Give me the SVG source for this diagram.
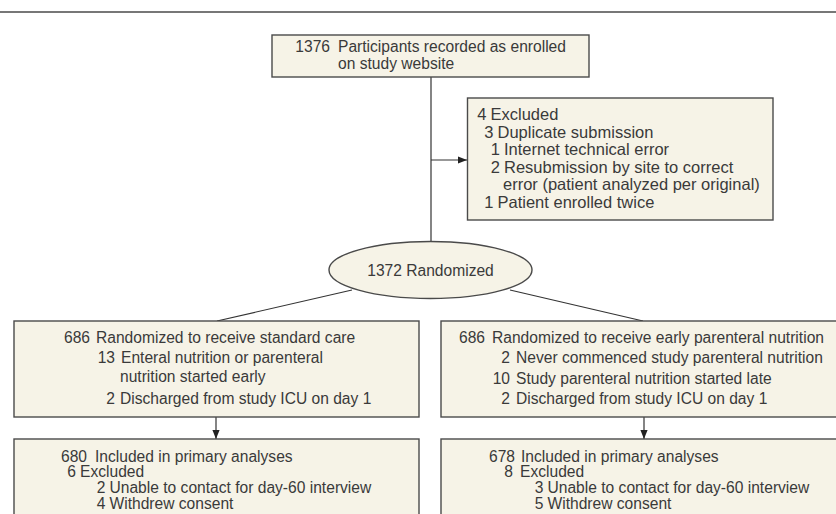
<svg xmlns="http://www.w3.org/2000/svg" width="836" height="514" viewBox="0 0 836 514">
<defs>
<style>
.box{fill:#f6f3e7;stroke:#4a4a4a;stroke-width:1.4}
.t{font-family:"Liberation Sans",Arial,sans-serif;font-size:15.6px;fill:#3a3a3a}
.x{font-size:16.5px}
.n{text-anchor:end}
.c{fill:none;stroke:#333;stroke-width:1.2}
</style>
<marker id="ah" viewBox="0 0 10 10" refX="10" refY="5" markerWidth="9" markerHeight="9" markerUnits="userSpaceOnUse" orient="auto">
<path d="M0,1 L10,5 L0,9 Z" fill="#222"/>
</marker>
</defs>
<rect width="836" height="514" fill="#fff"/>
<line x1="0" y1="12" x2="836" y2="12" stroke="#777" stroke-width="2"/>
<g id="connectors">
<line class="c" x1="431" y1="77" x2="431" y2="241.5"/>
<line class="c" x1="431" y1="160" x2="467" y2="160" marker-end="url(#ah)"/>
<line class="c" x1="352" y1="290" x2="217" y2="321"/>
<line class="c" x1="510" y1="290" x2="643" y2="321"/>
<line class="c" x1="216" y1="417" x2="216" y2="439" marker-end="url(#ah)"/>
<line class="c" x1="644" y1="417" x2="644" y2="439" marker-end="url(#ah)"/>
</g>
<g id="enrolled">
<rect class="box" x="272" y="35" width="317" height="42"/>
<text class="t n" x="330" y="52">1376</text>
<text class="t" x="338" y="52">Participants recorded as enrolled</text>
<text class="t" x="338" y="69">on study website</text>
</g>
<g id="excluded">
<rect class="box" x="467.5" y="98" width="305.5" height="122"/>
<text class="t x n" x="486.5" y="120">4</text><text class="t x" x="490.5" y="120">Excluded</text>
<text class="t x n" x="493.5" y="137.5">3</text><text class="t x" x="497.5" y="137.5">Duplicate submission</text>
<text class="t x n" x="500" y="155">1</text><text class="t x" x="504" y="155">Internet technical error</text>
<text class="t x n" x="500" y="172.5">2</text><text class="t x" x="504" y="172.5">Resubmission by site to correct</text>
<text class="t x" x="503" y="190">error (patient analyzed per original)</text>
<text class="t x n" x="493.5" y="207.5">1</text><text class="t x" x="497.5" y="207.5">Patient enrolled twice</text>
</g>
<g id="randomized">
<ellipse cx="430.5" cy="270" rx="101.5" ry="28.5" fill="#f6f3e7" stroke="#4a4a4a" stroke-width="1.4"/>
<text class="t" x="430.5" y="275.5" text-anchor="middle">1372 Randomized</text>
</g>
<g id="standard">
<rect class="box" x="14" y="321" width="405" height="96"/>
<text class="t n" x="90" y="343">686</text><text class="t" x="96" y="343">Randomized to receive standard care</text>
<text class="t n" x="115" y="363">13</text><text class="t" x="121" y="363">Enteral nutrition or parenteral</text>
<text class="t" x="120" y="382">nutrition started early</text>
<text class="t n" x="115" y="404">2</text><text class="t" x="120" y="404">Discharged from study ICU on day 1</text>
</g>
<g id="early">
<rect class="box" x="441" y="321" width="405" height="96"/>
<text class="t n" x="485" y="343">686</text><text class="t" x="492" y="343">Randomized to receive early parenteral nutrition</text>
<text class="t n" x="510" y="363">2</text><text class="t" x="516" y="363">Never commenced study parenteral nutrition</text>
<text class="t n" x="510" y="384">10</text><text class="t" x="516" y="384">Study parenteral nutrition started late</text>
<text class="t n" x="510" y="404">2</text><text class="t" x="516" y="404">Discharged from study ICU on day 1</text>
</g>
<g id="standard-analysed">
<rect class="box" x="14" y="439" width="405" height="90"/>
<text class="t n" x="87" y="461.5">680</text><text class="t" x="95" y="461.5">Included in primary analyses</text>
<text class="t n" x="76" y="477">6</text><text class="t" x="80" y="477">Excluded</text>
<text class="t n" x="105.5" y="493">2</text><text class="t" x="109.5" y="493">Unable to contact for day-60 interview</text>
<text class="t n" x="105.5" y="508.5">4</text><text class="t" x="109.5" y="508.5">Withdrew consent</text>
</g>
<g id="early-analysed">
<rect class="box" x="441" y="439" width="405" height="90"/>
<text class="t n" x="515" y="461.5">678</text><text class="t" x="521" y="461.5">Included in primary analyses</text>
<text class="t n" x="513" y="477">8</text><text class="t" x="520" y="477">Excluded</text>
<text class="t n" x="543.5" y="493">3</text><text class="t" x="547.5" y="493">Unable to contact for day-60 interview</text>
<text class="t n" x="543.5" y="508.5">5</text><text class="t" x="547.5" y="508.5">Withdrew consent</text>
</g>
</svg>
